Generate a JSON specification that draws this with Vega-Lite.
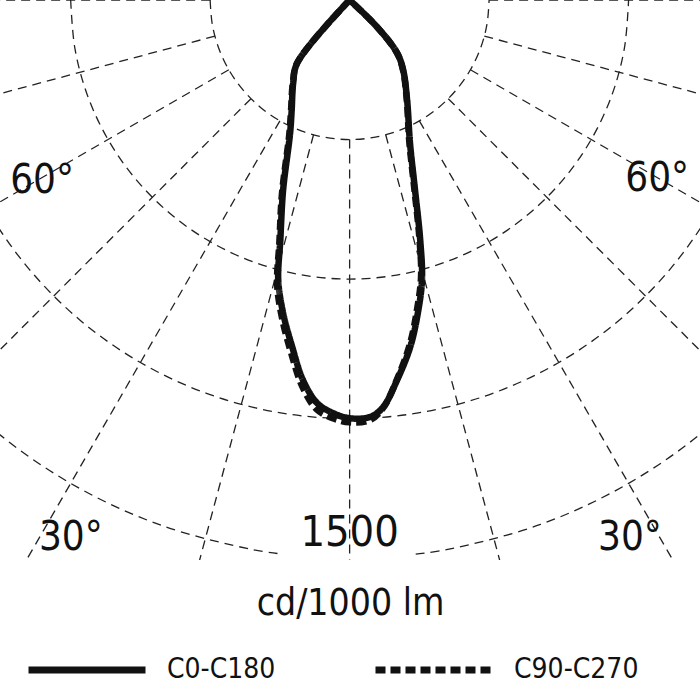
{
  "$schema": "https://vega.github.io/schema/vega-lite/v6.json",
  "width": 700,
  "height": 560,
  "padding": 0,
  "background": "white",
  "config": {"view": {"stroke": null}},
  "datasets": {
    "circles": [
      {"g": "c1", "r": 375, "a": -90}, {"g": "c1", "r": 375, "a": -80}, {"g": "c1", "r": 375, "a": -70}, {"g": "c1", "r": 375, "a": -60},
      {"g": "c1", "r": 375, "a": -50}, {"g": "c1", "r": 375, "a": -40}, {"g": "c1", "r": 375, "a": -30}, {"g": "c1", "r": 375, "a": -20},
      {"g": "c1", "r": 375, "a": -10}, {"g": "c1", "r": 375, "a": 0}, {"g": "c1", "r": 375, "a": 10}, {"g": "c1", "r": 375, "a": 20},
      {"g": "c1", "r": 375, "a": 30}, {"g": "c1", "r": 375, "a": 40}, {"g": "c1", "r": 375, "a": 50}, {"g": "c1", "r": 375, "a": 60},
      {"g": "c1", "r": 375, "a": 70}, {"g": "c1", "r": 375, "a": 80}, {"g": "c1", "r": 375, "a": 90},
      {"g": "c2", "r": 750, "a": -90}, {"g": "c2", "r": 750, "a": -80}, {"g": "c2", "r": 750, "a": -70}, {"g": "c2", "r": 750, "a": -60},
      {"g": "c2", "r": 750, "a": -50}, {"g": "c2", "r": 750, "a": -40}, {"g": "c2", "r": 750, "a": -30}, {"g": "c2", "r": 750, "a": -20},
      {"g": "c2", "r": 750, "a": -10}, {"g": "c2", "r": 750, "a": 0}, {"g": "c2", "r": 750, "a": 10}, {"g": "c2", "r": 750, "a": 20},
      {"g": "c2", "r": 750, "a": 30}, {"g": "c2", "r": 750, "a": 40}, {"g": "c2", "r": 750, "a": 50}, {"g": "c2", "r": 750, "a": 60},
      {"g": "c2", "r": 750, "a": 70}, {"g": "c2", "r": 750, "a": 80}, {"g": "c2", "r": 750, "a": 90},
      {"g": "c3", "r": 1125, "a": -90}, {"g": "c3", "r": 1125, "a": -80}, {"g": "c3", "r": 1125, "a": -70}, {"g": "c3", "r": 1125, "a": -60},
      {"g": "c3", "r": 1125, "a": -50}, {"g": "c3", "r": 1125, "a": -40}, {"g": "c3", "r": 1125, "a": -30}, {"g": "c3", "r": 1125, "a": -20},
      {"g": "c3", "r": 1125, "a": -10}, {"g": "c3", "r": 1125, "a": 0}, {"g": "c3", "r": 1125, "a": 10}, {"g": "c3", "r": 1125, "a": 20},
      {"g": "c3", "r": 1125, "a": 30}, {"g": "c3", "r": 1125, "a": 40}, {"g": "c3", "r": 1125, "a": 50}, {"g": "c3", "r": 1125, "a": 60},
      {"g": "c3", "r": 1125, "a": 70}, {"g": "c3", "r": 1125, "a": 80}, {"g": "c3", "r": 1125, "a": 90},
      {"g": "c4a", "r": 1500, "a": -90}, {"g": "c4a", "r": 1500, "a": -80}, {"g": "c4a", "r": 1500, "a": -70}, {"g": "c4a", "r": 1500, "a": -60},
      {"g": "c4a", "r": 1500, "a": -50}, {"g": "c4a", "r": 1500, "a": -40}, {"g": "c4a", "r": 1500, "a": -30}, {"g": "c4a", "r": 1500, "a": -20},
      {"g": "c4a", "r": 1500, "a": -10}, {"g": "c4a", "r": 1500, "a": -6.8},
      {"g": "c4b", "r": 1500, "a": 6.8}, {"g": "c4b", "r": 1500, "a": 10}, {"g": "c4b", "r": 1500, "a": 20},
      {"g": "c4b", "r": 1500, "a": 30}, {"g": "c4b", "r": 1500, "a": 40}, {"g": "c4b", "r": 1500, "a": 50}, {"g": "c4b", "r": 1500, "a": 60},
      {"g": "c4b", "r": 1500, "a": 70}, {"g": "c4b", "r": 1500, "a": 80}, {"g": "c4b", "r": 1500, "a": 90}
    ],
    "spokes": [
      {"g": "m90", "a": -90, "r": 375}, {"g": "m90", "a": -90, "r": 2500},
      {"g": "m75", "a": -75, "r": 375}, {"g": "m75", "a": -75, "r": 2500},
      {"g": "m60", "a": -60, "r": 375}, {"g": "m60", "a": -60, "r": 2500},
      {"g": "m45", "a": -45, "r": 375}, {"g": "m45", "a": -45, "r": 2500},
      {"g": "m30", "a": -30, "r": 375}, {"g": "m30", "a": -30, "r": 2500},
      {"g": "m15", "a": -15, "r": 375}, {"g": "m15", "a": -15, "r": 2500},
      {"g": "p0", "a": 0, "r": 375}, {"g": "p0", "a": 0, "r": 2500},
      {"g": "p15", "a": 15, "r": 375}, {"g": "p15", "a": 15, "r": 2500},
      {"g": "p30", "a": 30, "r": 375}, {"g": "p30", "a": 30, "r": 2500},
      {"g": "p45", "a": 45, "r": 375}, {"g": "p45", "a": 45, "r": 2500},
      {"g": "p60", "a": 60, "r": 375}, {"g": "p60", "a": 60, "r": 2500},
      {"g": "p75", "a": 75, "r": 375}, {"g": "p75", "a": 75, "r": 2500},
      {"g": "p90", "a": 90, "r": 375}, {"g": "p90", "a": 90, "r": 2500}
    ],
    "curves": [
      {"s": "C0-C180", "a": -90, "r": 0}, {"s": "C0-C180", "a": -39.8, "r": 220}, {"s": "C0-C180", "a": -34.2, "r": 270},
      {"s": "C0-C180", "a": -27.8, "r": 334}, {"s": "C0-C180", "a": -24.1, "r": 392}, {"s": "C0-C180", "a": -19.3, "r": 541},
      {"s": "C0-C180", "a": -16.1, "r": 672}, {"s": "C0-C180", "a": -14.3, "r": 777}, {"s": "C0-C180", "a": -12.0, "r": 860},
      {"s": "C0-C180", "a": -9.4, "r": 945}, {"s": "C0-C180", "a": -7.0, "r": 1029}, {"s": "C0-C180", "a": -4.6, "r": 1087},
      {"s": "C0-C180", "a": -2.3, "r": 1111}, {"s": "C0-C180", "a": 0, "r": 1124}, {"s": "C0-C180", "a": 2.8, "r": 1122},
      {"s": "C0-C180", "a": 4.7, "r": 1098}, {"s": "C0-C180", "a": 7.1, "r": 1030}, {"s": "C0-C180", "a": 9.9, "r": 947},
      {"s": "C0-C180", "a": 12.3, "r": 861}, {"s": "C0-C180", "a": 14.5, "r": 777}, {"s": "C0-C180", "a": 16.4, "r": 672},
      {"s": "C0-C180", "a": 19.0, "r": 540}, {"s": "C0-C180", "a": 22.9, "r": 417}, {"s": "C0-C180", "a": 29.9, "r": 310},
      {"s": "C0-C180", "a": 37.4, "r": 237}, {"s": "C0-C180", "a": 41.9, "r": 191}, {"s": "C0-C180", "a": 45.5, "r": 103},
      {"s": "C0-C180", "a": 90, "r": 0},
      {"s": "C90-C270", "a": -90, "r": 0}, {"s": "C90-C270", "a": -39.8, "r": 220}, {"s": "C90-C270", "a": -34.2, "r": 272},
      {"s": "C90-C270", "a": -27.8, "r": 338}, {"s": "C90-C270", "a": -24.1, "r": 398}, {"s": "C90-C270", "a": -19.3, "r": 550},
      {"s": "C90-C270", "a": -16.1, "r": 682}, {"s": "C90-C270", "a": -14.3, "r": 789}, {"s": "C90-C270", "a": -12.0, "r": 874},
      {"s": "C90-C270", "a": -9.4, "r": 962}, {"s": "C90-C270", "a": -7.0, "r": 1046}, {"s": "C90-C270", "a": -4.6, "r": 1104},
      {"s": "C90-C270", "a": -2.3, "r": 1125}, {"s": "C90-C270", "a": 0, "r": 1135}, {"s": "C90-C270", "a": 2.8, "r": 1130},
      {"s": "C90-C270", "a": 4.7, "r": 1100}, {"s": "C90-C270", "a": 7.1, "r": 1028}, {"s": "C90-C270", "a": 9.9, "r": 940},
      {"s": "C90-C270", "a": 12.3, "r": 851}, {"s": "C90-C270", "a": 14.5, "r": 767}, {"s": "C90-C270", "a": 16.4, "r": 663},
      {"s": "C90-C270", "a": 19.0, "r": 533}, {"s": "C90-C270", "a": 22.9, "r": 412}, {"s": "C90-C270", "a": 29.9, "r": 308},
      {"s": "C90-C270", "a": 37.4, "r": 236}, {"s": "C90-C270", "a": 41.9, "r": 190}, {"s": "C90-C270", "a": 45.5, "r": 103},
      {"s": "C90-C270", "a": 90, "r": 0}
    ],
    "labels": [
      {"t": "60°", "a": -57.9, "r": 976, "k": "deg"},
      {"t": "60°", "a": 58.2, "r": 973, "k": "deg"},
      {"t": "30°", "a": -26.9, "r": 1657, "k": "deg"},
      {"t": "30°", "a": 27.0, "r": 1660, "k": "deg"},
      {"t": "1500", "a": 0, "r": 1468, "k": "val"}
    ]
  },
  "encoding": {
    "x": {
      "field": "x", "type": "quantitative",
      "scale": {"domain": [-940, 942], "nice": false, "zero": false},
      "axis": {
        "title": "cd/1000 lm", "domain": false, "ticks": false, "labels": false, "grid": false,
        "titleFont": "DejaVu Sans Condensed", "titleFontSize": 37, "titleFontWeight": "normal",
        "titleColor": "#111", "titlePadding": 25
      }
    },
    "y": {
      "field": "y", "type": "quantitative",
      "scale": {"domain": [0, 1505], "reverse": true, "nice": false, "zero": false},
      "axis": null
    }
  },
  "layer": [
    {
      "data": {"name": "circles"},
      "transform": [
        {"calculate": "datum.r * sin(datum.a * PI / 180)", "as": "x"},
        {"calculate": "datum.r * cos(datum.a * PI / 180)", "as": "y"}
      ],
      "mark": {"type": "line", "clip": true, "interpolate": "catmull-rom", "color": "#222", "strokeWidth": 1.3, "strokeDash": [9, 6]},
      "encoding": {"detail": {"field": "g"}, "order": {"field": "a", "type": "quantitative"}}
    },
    {
      "data": {"name": "spokes"},
      "transform": [
        {"calculate": "datum.r * sin(datum.a * PI / 180)", "as": "x"},
        {"calculate": "datum.r * cos(datum.a * PI / 180)", "as": "y"}
      ],
      "mark": {"type": "line", "clip": true, "color": "#222", "strokeWidth": 1.3, "strokeDash": [9, 6]},
      "encoding": {"detail": {"field": "g"}, "order": {"field": "r", "type": "quantitative"}}
    },
    {
      "data": {"name": "curves"},
      "transform": [
        {"calculate": "datum.r * sin(datum.a * PI / 180)", "as": "x"},
        {"calculate": "datum.r * cos(datum.a * PI / 180)", "as": "y"}
      ],
      "mark": {"type": "line", "clip": true, "interpolate": "catmull-rom", "color": "#111", "strokeWidth": 6.5},
      "encoding": {
        "order": {"field": "a", "type": "quantitative"},
        "strokeDash": {
          "field": "s", "type": "nominal",
          "scale": {"domain": ["C0-C180", "C90-C270"], "range": [[1, 0], [10, 5]]},
          "legend": {
            "title": null, "orient": "bottom", "direction": "horizontal",
            "symbolType": "stroke", "symbolSize": 13689, "symbolStrokeWidth": 7,
            "symbolStrokeColor": "#111", "labelFont": "DejaVu Sans Condensed",
            "labelFontSize": 28, "labelColor": "#111", "labelOffset": 18,
            "columnPadding": 85, "padding": 25, "offset": -38
          }
        }
      }
    },
    {
      "data": {"name": "labels"},
      "transform": [
        {"calculate": "datum.r * sin(datum.a * PI / 180)", "as": "x"},
        {"calculate": "datum.r * cos(datum.a * PI / 180)", "as": "y"}
      ],
      "mark": {"type": "text", "align": "center", "baseline": "alphabetic", "font": "DejaVu Sans Condensed", "color": "#111"},
      "encoding": {
        "text": {"field": "t"},
        "size": {
          "field": "k", "type": "nominal",
          "scale": {"domain": ["deg", "val"], "range": [40, 43]},
          "legend": null
        }
      }
    }
  ]
}
